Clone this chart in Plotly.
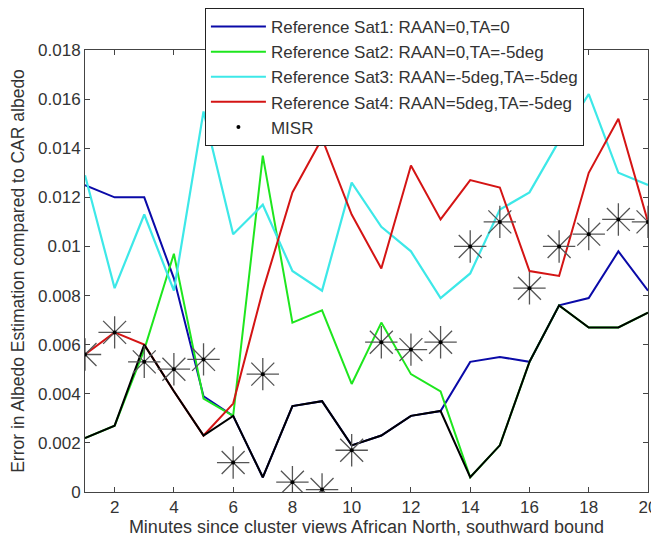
import plotly.graph_objects as go

minutes = list(range(1, 21))

sat1 = [0.0125, 0.0120, 0.0120, 0.0087, 0.0039, 0.0031, 0.0006, 0.0035, 0.0037, 0.0019,
        0.0023, 0.0031, 0.0033, 0.0053, 0.0055, 0.0053, 0.0076, 0.0079, 0.0098, 0.0082]
sat2 = [0.0022, 0.0027, 0.0058, 0.0097, 0.0038, 0.0031, 0.0137, 0.0069, 0.0074, 0.0044,
        0.0069, 0.0048, 0.0041, 0.0006, 0.0019, 0.0053, 0.0076, 0.0067, 0.0067, 0.0073]
sat3 = [0.0129, 0.0083, 0.0113, 0.0082, 0.0155, 0.0105, 0.0117, 0.0090, 0.0082, 0.0126,
        0.0108, 0.0098, 0.0079, 0.0089, 0.0115, 0.0122, 0.0143, 0.0162, 0.0130, 0.0125]
sat4 = [0.0056, 0.0065, 0.0060, 0.0041, 0.0023, 0.0036, 0.0082, 0.0122, 0.0144, 0.0113,
        0.0091, 0.0133, 0.0111, 0.0127, 0.0124, 0.0090, 0.0088, 0.0130, 0.0152, 0.0110]
lower = [0.0022, 0.0027, 0.0060, 0.0041, 0.0023, 0.0031, 0.0006, 0.0035, 0.0037, 0.0019,
         0.0023, 0.0031, 0.0033, 0.0006, 0.0019, 0.0053, 0.0076, 0.0067, 0.0067, 0.0073]
misr = [0.0056, 0.0065, 0.0053, 0.0050, 0.0054, 0.0012, 0.0048, 0.0004, 0.0001, 0.0017,
        0.0061, 0.0058, 0.0061, 0.0100, 0.0110, 0.0083, 0.0100, 0.0105, 0.0111, 0.0110]

names = ["Reference Sat1: RAAN=0,TA=0",
         "Reference Sat2: RAAN=0,TA=-5deg",
         "Reference Sat3: RAAN=-5deg,TA=-5deg",
         "Reference Sat4: RAAN=5deg,TA=-5deg",
         "MISR"]

x_ticks = list(range(2, 21, 2))
y_ticks = [i * 0.002 for i in range(10)]
y_labels = ["0", "0.002", "0.004", "0.006", "0.008", "0.01", "0.012", "0.014", "0.016", "0.018"]

FONT = "Liberation Sans, Arial"

fig = go.Figure()
fig.add_trace(go.Scatter(x=minutes, y=sat1, mode="lines", name=names[0],
                         line=dict(color="#0a0aa8", width=2)))
fig.add_trace(go.Scatter(x=minutes, y=sat2, mode="lines", name=names[1],
                         line=dict(color="#1ee61e", width=2)))
fig.add_trace(go.Scatter(x=minutes, y=sat3, mode="lines", name=names[2],
                         line=dict(color="#3de8e8", width=2.2)))
fig.add_trace(go.Scatter(x=minutes, y=sat4, mode="lines", name=names[3],
                         line=dict(color="#d41414", width=2)))
fig.add_trace(go.Scatter(x=minutes, y=lower, mode="lines", showlegend=False,
                         line=dict(color="#000000", width=2)))
fig.add_trace(go.Scatter(x=minutes, y=misr, mode="markers", showlegend=False,
                         marker=dict(symbol="asterisk-open", size=27, color="#555555",
                                     line=dict(width=1.3, color="#555555"))))
fig.add_trace(go.Scatter(x=minutes, y=misr, mode="markers", name=names[4],
                         marker=dict(symbol="circle", size=4, color="#000000")))

axis_common = dict(showline=True, linecolor="#444444", linewidth=1, mirror="ticks",
                   ticks="inside", ticklen=5, tickcolor="#444444", showgrid=False,
                   zeroline=False, tickfont=dict(family=FONT, size=17, color="#333333"))

fig.update_xaxes(range=[1, 20], tickvals=x_ticks,
                 title=dict(text="Minutes since cluster views African North, southward bound",
                            font=dict(family=FONT, size=18, color="#333333"),
                            standoff=0),
                 **axis_common)
fig.update_yaxes(range=[0, 0.018], tickvals=y_ticks, ticktext=y_labels,
                 title=dict(text="Error in Albedo Estimation compared to CAR albedo",
                            font=dict(family=FONT, size=17.5, color="#333333"),
                            standoff=8),
                 **axis_common)

fig.update_layout(
    width=651, height=532,
    margin=dict(l=77, r=11, t=42, b=48, autoexpand=False),
    paper_bgcolor="white", plot_bgcolor="white",
    showlegend=True,
    legend=dict(x=0.213, y=1.095, xanchor="left", yanchor="top",
                bgcolor="white", bordercolor="#222222", borderwidth=1,
                font=dict(family=FONT, size=17, color="#333333"),
                tracegroupgap=0, itemwidth=55),
)

fig.write_html("out.html")
